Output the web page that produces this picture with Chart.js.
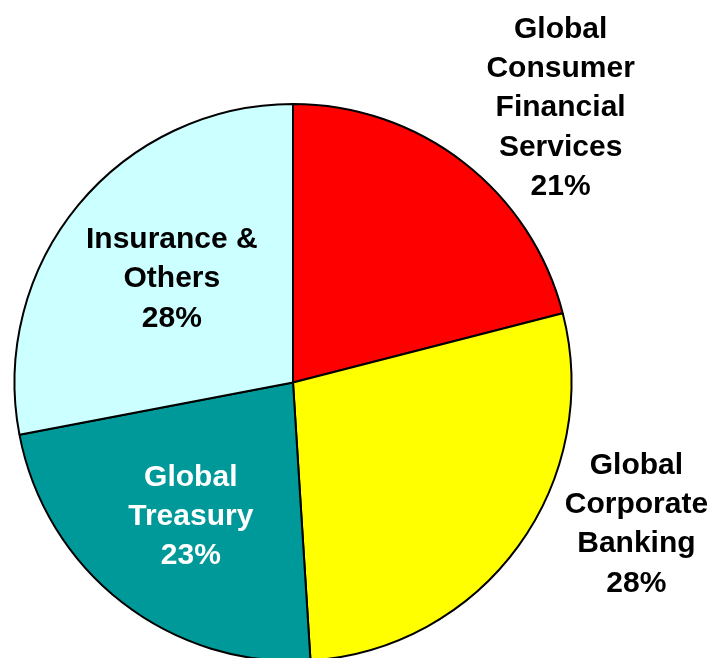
<!DOCTYPE html>
<html>
<head>
<meta charset="utf-8">
<script src="https://cdn.jsdelivr.net/npm/chart.js@4/dist/chart.umd.min.js"></script>
<style>
html,body{margin:0;padding:0;background:#fff;overflow:hidden;width:715px;height:658px;}
#wrap{width:715px;height:658px;overflow:hidden;position:relative;}
canvas{display:block;}
</style>
</head>
<body>
<div id="wrap"><canvas id="c" width="715" height="662"></canvas></div>
<script>
const categories = [
  ["Global", "Consumer", "Financial", "Services"],
  ["Global", "Corporate", "Banking"],
  ["Global", "Treasury"],
  ["Insurance &", "Others"]
];
const shares = [21, 28, 23, 28];
const colors = ["#FF0000", "#FFFF00", "#009999", "#CCFFFF"];
const textColors = ["#000000", "#000000", "#FFFFFF", "#000000"];
// label anchors relative to pie centre, in units of the radius
const labelAnchors = [
  {x: 0.961, y: -0.985},
  {x: 1.233, y: 0.510},
  {x: -0.367, y: 0.481},
  {x: -0.435, y: -0.371}
];

const labelPlugin = {
  id: 'sliceLabels',
  afterDraw(chart) {
    const ctx = chart.ctx;
    const meta = chart.getDatasetMeta(0);
    const arc0 = meta.data[0];
    const cx = arc0.x, cy = arc0.y, r = arc0.outerRadius;
    const lh = 39.2;
    ctx.save();
    ctx.font = 'bold 30px "Liberation Sans", Arial, sans-serif';
    ctx.textAlign = 'center';
    ctx.textBaseline = 'middle';
    meta.data.forEach((arc, i) => {
      const lines = categories[i].concat([shares[i] + '%']);
      const ax = cx + labelAnchors[i].x * r;
      const ay = cy + labelAnchors[i].y * r;
      const y0 = ay - (lines.length - 1) / 2 * lh;
      ctx.fillStyle = textColors[i];
      lines.forEach((t, k) => ctx.fillText(t, ax, y0 + k * lh));
    });
    ctx.restore();
  }
};

new Chart(document.getElementById('c'), {
  type: 'pie',
  data: {
    labels: categories.map(l => l.join(' ')),
    datasets: [{
      data: shares,
      backgroundColor: colors,
      borderColor: '#000000',
      borderWidth: 2
    }]
  },
  options: {
    responsive: false,
    animation: false,
    layout: {padding: {left: 13, right: 142, top: 103, bottom: 0}},
    plugins: {legend: {display: false}, tooltip: {enabled: false}}
  },
  plugins: [labelPlugin]
});
</script>
</body>
</html>
